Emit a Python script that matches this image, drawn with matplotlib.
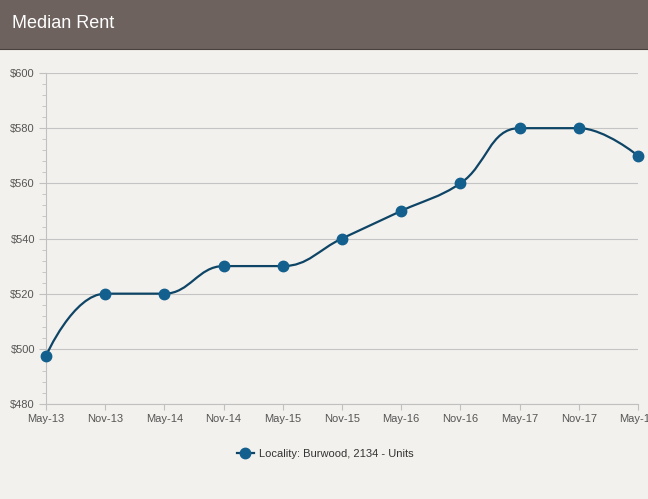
import numpy as np
import matplotlib.pyplot as plt
from matplotlib.path import Path
from matplotlib.patches import PathPatch, Rectangle
from matplotlib.lines import Line2D

plt.rcParams['font.family'] = ['Liberation Sans', 'DejaVu Sans']

# data
periods = ['May-13', 'Nov-13', 'May-14', 'Nov-14', 'May-15', 'Nov-15',
           'May-16', 'Nov-16', 'May-17', 'Nov-17', 'May-18']
rent = [497.5, 520, 520, 530, 530, 540, 550, 560, 580, 580, 570]
series_name = 'Locality: Burwood, 2134 - Units'
y_ticks = [480, 500, 520, 540, 560, 580, 600]

bg = '#f3f1ed'
line_col = '#0e4566'
dot_col = '#13608e'
text_col = '#555555'


def spline_path(px, py, smoothing=1.5):
    # highcharts-like spline, computed in pixel space
    n = len(px)
    lc = [None] * n
    rc = [None] * n
    denom = smoothing + 1
    for i in range(1, n - 1):
        x, y = px[i], py[i]
        lx, ly = px[i - 1], py[i - 1]
        nx, ny = px[i + 1], py[i + 1]
        lcx = (smoothing * x + lx) / denom
        lcy = (smoothing * y + ly) / denom
        rcx = (smoothing * x + nx) / denom
        rcy = (smoothing * y + ny) / denom
        dl = np.hypot(lcx - x, lcy - y)
        dr = np.hypot(rcx - x, rcy - y)
        la = np.arctan2(lcx - x, lcy - y)
        ra = np.arctan2(rcx - x, rcy - y)
        ja = np.pi / 2 + (la + ra) / 2
        if abs(la - ja) > np.pi / 2:
            ja -= np.pi
        lcx = x + np.sin(ja) * dl
        lcy = y + np.cos(ja) * dl
        rcx = x + np.sin(np.pi + ja) * dr
        rcy = y + np.cos(np.pi + ja) * dr
        if lcy > max(ly, y):
            lcy = max(ly, y)
            rcy = 2 * y - lcy
        elif lcy < min(ly, y):
            lcy = min(ly, y)
            rcy = 2 * y - lcy
        if rcy > max(ny, y):
            rcy = max(ny, y)
            lcy = 2 * y - rcy
        elif rcy < min(ny, y):
            rcy = min(ny, y)
            lcy = 2 * y - rcy
        lc[i] = (lcx, lcy)
        rc[i] = (rcx, rcy)
    verts = [(px[0], py[0])]
    codes = [Path.MOVETO]
    for i in range(1, n):
        c1 = rc[i - 1] if rc[i - 1] is not None else (px[i - 1], py[i - 1])
        c2 = lc[i] if lc[i] is not None else (px[i], py[i])
        verts += [c1, c2, (px[i], py[i])]
        codes += [Path.CURVE4] * 3
    return verts, codes


fig = plt.figure(figsize=(6.48, 4.99), dpi=100, facecolor=bg)

# header band
fig.patches.append(Rectangle((0, 1 - 49 / 499), 1, 49 / 499, transform=fig.transFigure,
                             facecolor='#6e625e', edgecolor='none', zorder=0))
fig.add_artist(Line2D([0, 1], [1 - 48.5 / 499] * 2, transform=fig.transFigure,
                      color='#4a403c', lw=0.8, zorder=1))
fig.text(12 / 648, 1 - 24 / 499, 'Median Rent', color='white', fontsize=13,
         va='center', ha='left')

ax = fig.add_axes([46 / 648, 95 / 499, 592 / 648, 331 / 499], facecolor=bg)
x = np.arange(len(periods))
ax.set_xlim(0, len(periods) - 1)
ax.set_ylim(480, 600)

# smooth line in pixel space then back to data
fig.canvas.draw()
pts = ax.transData.transform(np.column_stack([x, rent]))
verts, codes = spline_path(pts[:, 0], pts[:, 1])
verts = ax.transData.inverted().transform(np.array(verts))
ax.add_patch(PathPatch(Path(verts, codes), facecolor='none', edgecolor=line_col,
                       lw=1.6, zorder=3, clip_on=False))
ax.plot(x, rent, ls='none', marker='o', ms=7.5, color=dot_col, zorder=4, clip_on=False)

ax.set_yticks(y_ticks)
ax.set_yticklabels(['${}'.format(v) for v in y_ticks])
ax.set_yticks(np.arange(480, 601, 4), minor=True)
ax.set_xticks(x)
ax.set_xticklabels(periods)
ax.grid(axis='y', color='#c4c4c4', lw=0.8)
ax.set_axisbelow(True)

for s in ['top', 'right']:
    ax.spines[s].set_visible(False)
ax.spines['left'].set_color('#c0c0c0')
ax.spines['bottom'].set_color('#c0c0c0')
ax.tick_params(axis='y', which='major', length=5, color='#c0c0c0',
               labelsize=8, labelcolor=text_col, pad=3)
ax.tick_params(axis='y', which='minor', length=3, color='#c0c0c0')
ax.tick_params(axis='x', length=4, color='#c0c0c0', labelsize=8,
               labelcolor=text_col, pad=3)

handle = Line2D([], [], color=line_col, lw=1.6, marker='o', ms=7.5,
                markerfacecolor=dot_col, markeredgecolor=dot_col)
fig.legend([handle], [series_name], loc='center', bbox_to_anchor=(325 / 648, 1 - 454 / 499),
           frameon=False, fontsize=8, labelcolor='#333333', handlelength=1.6,
           handletextpad=0.4)

fig.savefig('out.png', dpi=100, facecolor=bg)
